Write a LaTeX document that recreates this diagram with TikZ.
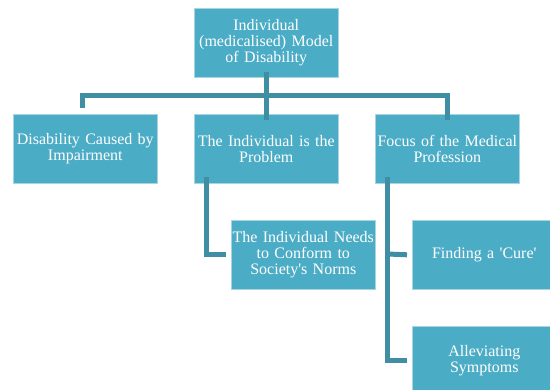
\documentclass[tikz,border=0pt]{standalone}
\usepackage{fontspec}
\setmainfont{Liberation Serif}
\begin{document}
\begin{tikzpicture}[x=1pt,y=-1pt,
  box/.style={fill=boxblue, draw=boxedge, line width=0.6pt, minimum width=144pt, minimum height=69pt, text width=142pt, align=center, text=white, font=\fontsize{16}{16.2}\selectfont, inner sep=0pt, anchor=north west},
  conn/.style={draw=connblue, line width=5pt}]
\definecolor{boxblue}{HTML}{4BACC6}
\definecolor{boxedge}{HTML}{A9D4E2}
\definecolor{connblue}{HTML}{3F8EA3}
\useasboundingbox (0,0) rectangle (550,390);
\clip (0,0) rectangle (550,390);
\node[box] (top) at (194,8) {Individual\\(medicalised) Model\\of Disability};
\node[box] (a) at (13,114) {Disability Caused by\\Impairment};
\node[box] (b) at (194,114) {The Individual is the\\Problem};
\node[box] (c) at (375,114) {Focus of the Medical\\Profession};
\node[box] (b1) at (231,220) {The Individual Needs\\to Conform to\\Society\textquotesingle s Norms};
\node[box] (c1) at (412,220) {Finding a \textquotesingle Cure\textquotesingle};
\node[box] (c2) at (412,326) {Alleviating\\Symptoms};
\coordinate (hub) at (266,96);
\coordinate (bL) at (206,254);
\coordinate (cL1) at (387,254);
\coordinate (cL2) at (387,361);
\draw[conn] ([yshift=6]top.south) -- ([yshift=-6]top.south |- a.north);
\draw[conn] ([xshift=-2.5]a.north -| a.north) ++(0,-6) |- (hub) -| ([yshift=-6]c.north);
\draw[conn] ([yshift=7]b.south -| bL) |- ([xshift=-5]b1.west);
\draw[conn] ([yshift=7]c.south -| cL1) |- ([xshift=-5]c2.west);
\draw[conn] (cL1) -- ([xshift=-5]c1.west);
\end{tikzpicture}
\end{document}
